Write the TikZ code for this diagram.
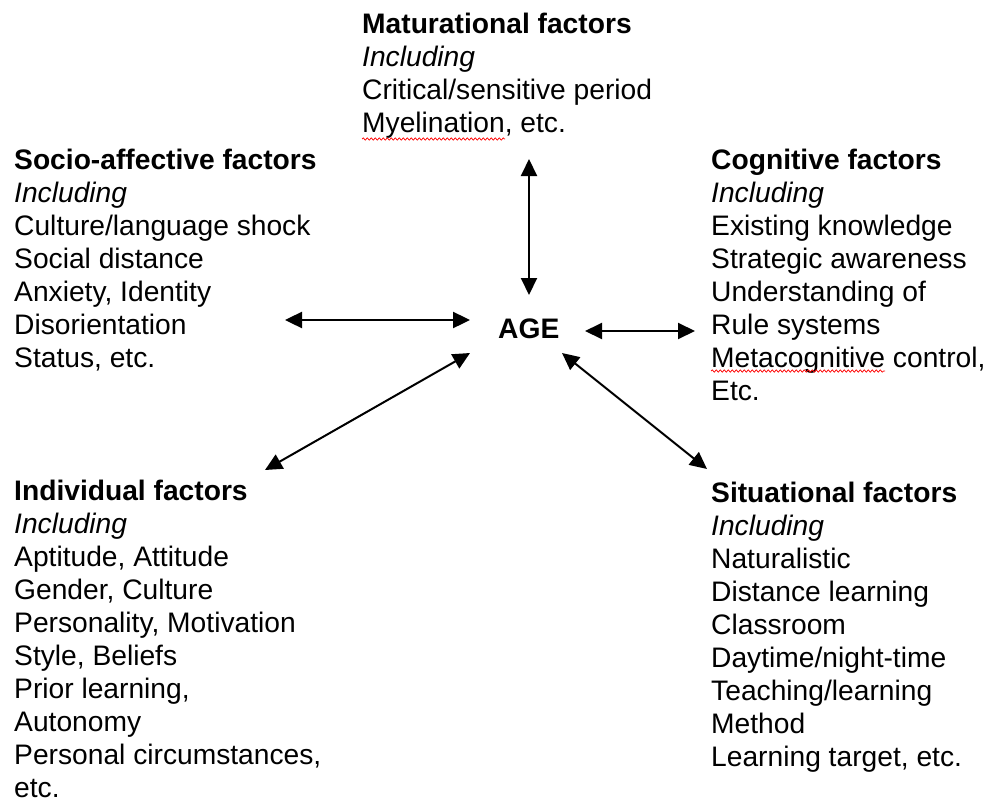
\documentclass[tikz,border=0pt]{standalone}
\usepackage{fontspec}
\setmainfont{Liberation Sans}
\usetikzlibrary{arrows.meta,decorations.pathmorphing}
\begin{document}
\begin{tikzpicture}[x=1pt,y=-1pt,
  txt/.style={anchor=base west, inner sep=0pt, align=left, font=\fontsize{28.2}{33}\selectfont},
  link/.style={{Triangle[length=17pt,width=16pt]}-{Triangle[length=17pt,width=16pt]}, line width=2pt},
  spell/.style={draw=red, line width=0.7pt, decorate, decoration={snake, segment length=4pt, amplitude=1.2pt}}]
\useasboundingbox (0,0) rectangle (990,803);
% multi-line nodes: base anchor = baseline of last line
\node[txt] (mat) at (362,132) {\textbf{Maturational factors}\\\textit{Including}\\Critical/sensitive period\\Myelination, etc.};
\node[txt] (soc) at (14,367) {\textbf{Socio-affective factors}\\\textit{Including}\\Culture/language shock\\Social distance\\Anxiety, Identity\\Disorientation\\Status, etc.};
\node[txt] (cog) at (711,400) {\textbf{Cognitive factors}\\\textit{Including}\\Existing knowledge\\Strategic awareness\\Understanding of\\Rule systems\\Metacognitive control,\\Etc.};
\node[txt] (ind) at (14,797) {\textbf{Individual factors}\\\textit{Including}\\Aptitude, Attitude\\Gender, Culture\\Personality, Motivation\\Style, Beliefs\\Prior learning,\\Autonomy\\Personal circumstances,\\etc.};
\node[txt] (sit) at (711,766) {\textbf{Situational factors}\\\textit{Including}\\Naturalistic\\Distance learning\\Classroom\\Daytime/night-time\\Teaching/learning\\Method\\Learning target, etc.};
\node[txt, font=\fontsize{28.2}{33}\selectfont\bfseries] (age) at (498,338) {AGE};
% arrow ends
\coordinate (matA) at (529,159);
\coordinate (ageT) at (529,295);
\coordinate (socA) at (285,320);
\coordinate (ageL) at (470,320);
\coordinate (ageR) at (585,331);
\coordinate (cogA) at (695,331);
\coordinate (ageBL) at (470,353);
\coordinate (indA) at (265,470);
\coordinate (ageBR) at (562,353);
\coordinate (sitA) at (707,469);
\draw[link] (matA) -- (ageT);
\draw[link, line width=2.4pt] (socA) -- (ageL);
\draw[link] (ageR) -- (cogA);
\draw[link] (ageBL) -- (indA);
\draw[link] (ageBR) -- (sitA);
% spell-check underlines
\draw[spell] (362,139) -- (505,139);
\draw[spell] (711,371) -- (885,371);
\end{tikzpicture}
\end{document}
